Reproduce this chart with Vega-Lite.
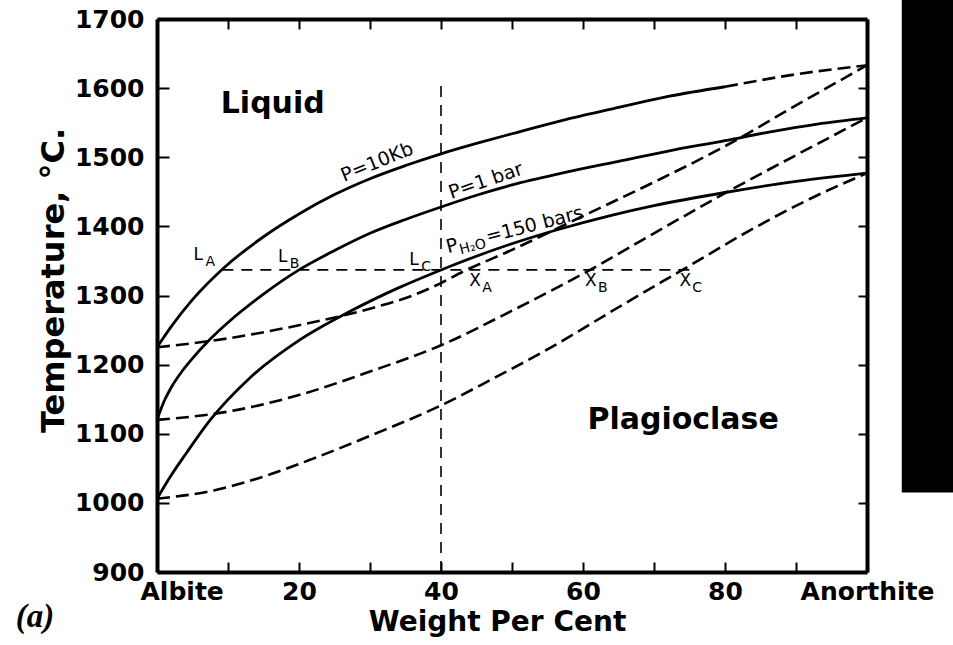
{
  "$schema": "https://vega.github.io/schema/vega-lite/v6.json",
  "width": 710,
  "height": 553,
  "autosize": {"type": "none"},
  "padding": {"left": 157, "top": 19, "right": 86, "bottom": 73},
  "background": "white",
  "config": {"view": {"stroke": null}, "font": "DejaVu Sans"},
  "datasets": {
    "solid": [
      {"series": "P=10Kb", "pct": 0, "temp": 1225}, {"series": "P=10Kb", "pct": 2, "temp": 1255}, {"series": "P=10Kb", "pct": 5, "temp": 1294}, {"series": "P=10Kb", "pct": 9.2, "temp": 1338}, {"series": "P=10Kb", "pct": 15, "temp": 1385}, {"series": "P=10Kb", "pct": 20, "temp": 1418}, {"series": "P=10Kb", "pct": 25, "temp": 1446}, {"series": "P=10Kb", "pct": 30, "temp": 1469}, {"series": "P=10Kb", "pct": 35, "temp": 1488}, {"series": "P=10Kb", "pct": 40, "temp": 1505}, {"series": "P=10Kb", "pct": 45, "temp": 1520}, {"series": "P=10Kb", "pct": 50, "temp": 1534}, {"series": "P=10Kb", "pct": 57, "temp": 1553}, {"series": "P=10Kb", "pct": 65, "temp": 1572}, {"series": "P=10Kb", "pct": 72, "temp": 1588}, {"series": "P=10Kb", "pct": 80, "temp": 1602},
      {"series": "P=1 bar", "pct": 0, "temp": 1120}, {"series": "P=1 bar", "pct": 1, "temp": 1147}, {"series": "P=1 bar", "pct": 2, "temp": 1167}, {"series": "P=1 bar", "pct": 3.5, "temp": 1190}, {"series": "P=1 bar", "pct": 5, "temp": 1209}, {"series": "P=1 bar", "pct": 7.5, "temp": 1237}, {"series": "P=1 bar", "pct": 10, "temp": 1261}, {"series": "P=1 bar", "pct": 15, "temp": 1302}, {"series": "P=1 bar", "pct": 20, "temp": 1337}, {"series": "P=1 bar", "pct": 25, "temp": 1365}, {"series": "P=1 bar", "pct": 30, "temp": 1390}, {"series": "P=1 bar", "pct": 35, "temp": 1410}, {"series": "P=1 bar", "pct": 40, "temp": 1428}, {"series": "P=1 bar", "pct": 45, "temp": 1445}, {"series": "P=1 bar", "pct": 50, "temp": 1460}, {"series": "P=1 bar", "pct": 57, "temp": 1477}, {"series": "P=1 bar", "pct": 65, "temp": 1494}, {"series": "P=1 bar", "pct": 72, "temp": 1509}, {"series": "P=1 bar", "pct": 80, "temp": 1524}, {"series": "P=1 bar", "pct": 86, "temp": 1536}, {"series": "P=1 bar", "pct": 93, "temp": 1548}, {"series": "P=1 bar", "pct": 100, "temp": 1557},
      {"series": "PH2O=150 bars", "pct": 0, "temp": 1006}, {"series": "PH2O=150 bars", "pct": 2, "temp": 1040}, {"series": "PH2O=150 bars", "pct": 4, "temp": 1070}, {"series": "PH2O=150 bars", "pct": 7.5, "temp": 1120}, {"series": "PH2O=150 bars", "pct": 13, "temp": 1180}, {"series": "PH2O=150 bars", "pct": 20, "temp": 1235}, {"series": "PH2O=150 bars", "pct": 27, "temp": 1276}, {"series": "PH2O=150 bars", "pct": 34, "temp": 1311}, {"series": "PH2O=150 bars", "pct": 40, "temp": 1337}, {"series": "PH2O=150 bars", "pct": 48, "temp": 1368}, {"series": "PH2O=150 bars", "pct": 56, "temp": 1394}, {"series": "PH2O=150 bars", "pct": 64, "temp": 1416}, {"series": "PH2O=150 bars", "pct": 70, "temp": 1430}, {"series": "PH2O=150 bars", "pct": 80, "temp": 1449}, {"series": "PH2O=150 bars", "pct": 90, "temp": 1465}, {"series": "PH2O=150 bars", "pct": 100, "temp": 1477}
    ],
    "dashed": [
      {"series": "P=10Kb liquidus ext", "pct": 80, "temp": 1602}, {"series": "P=10Kb liquidus ext", "pct": 90, "temp": 1620}, {"series": "P=10Kb liquidus ext", "pct": 100, "temp": 1633},
      {"series": "P=10Kb solidus", "pct": 0, "temp": 1225}, {"series": "P=10Kb solidus", "pct": 10, "temp": 1238}, {"series": "P=10Kb solidus", "pct": 20, "temp": 1257}, {"series": "P=10Kb solidus", "pct": 30, "temp": 1281}, {"series": "P=10Kb solidus", "pct": 36, "temp": 1300}, {"series": "P=10Kb solidus", "pct": 40, "temp": 1318}, {"series": "P=10Kb solidus", "pct": 43, "temp": 1334}, {"series": "P=10Kb solidus", "pct": 50, "temp": 1366}, {"series": "P=10Kb solidus", "pct": 60, "temp": 1415}, {"series": "P=10Kb solidus", "pct": 70, "temp": 1464}, {"series": "P=10Kb solidus", "pct": 80, "temp": 1516}, {"series": "P=10Kb solidus", "pct": 90, "temp": 1575}, {"series": "P=10Kb solidus", "pct": 100, "temp": 1633},
      {"series": "P=1 bar solidus", "pct": 0, "temp": 1120}, {"series": "P=1 bar solidus", "pct": 10, "temp": 1132}, {"series": "P=1 bar solidus", "pct": 20, "temp": 1156}, {"series": "P=1 bar solidus", "pct": 30, "temp": 1190}, {"series": "P=1 bar solidus", "pct": 40, "temp": 1228}, {"series": "P=1 bar solidus", "pct": 50, "temp": 1278}, {"series": "P=1 bar solidus", "pct": 61, "temp": 1337}, {"series": "P=1 bar solidus", "pct": 70, "temp": 1390}, {"series": "P=1 bar solidus", "pct": 80, "temp": 1448}, {"series": "P=1 bar solidus", "pct": 90, "temp": 1503}, {"series": "P=1 bar solidus", "pct": 100, "temp": 1557},
      {"series": "PH2O solidus", "pct": 0, "temp": 1006}, {"series": "PH2O solidus", "pct": 8, "temp": 1018}, {"series": "PH2O solidus", "pct": 15, "temp": 1038}, {"series": "PH2O solidus", "pct": 22, "temp": 1064}, {"series": "PH2O solidus", "pct": 30, "temp": 1097}, {"series": "PH2O solidus", "pct": 40, "temp": 1141}, {"series": "PH2O solidus", "pct": 47, "temp": 1178}, {"series": "PH2O solidus", "pct": 55, "temp": 1222}, {"series": "PH2O solidus", "pct": 65, "temp": 1283}, {"series": "PH2O solidus", "pct": 74, "temp": 1337}, {"series": "PH2O solidus", "pct": 84, "temp": 1397}, {"series": "PH2O solidus", "pct": 92, "temp": 1440}, {"series": "PH2O solidus", "pct": 100, "temp": 1477}
    ],
    "guides": [
      {"series": "isotherm", "pct": 9.2, "temp": 1337}, {"series": "isotherm", "pct": 75, "temp": 1337},
      {"series": "isopleth", "pct": 40, "temp": 900}, {"series": "isopleth", "pct": 40, "temp": 1610}
    ],
    "points": [
      {"main": "L", "sub": "A", "pct": 5.8, "temp": 1359},
      {"main": "L", "sub": "B", "pct": 17.7, "temp": 1356},
      {"main": "L", "sub": "C", "pct": 36.2, "temp": 1351},
      {"main": "X", "sub": "A", "pct": 44.8, "temp": 1321},
      {"main": "X", "sub": "B", "pct": 61.1, "temp": 1321},
      {"main": "X", "sub": "C", "pct": 74.4, "temp": 1321}
    ],
    "regions": [
      {"label": "Liquid", "pct": 16.3, "temp": 1564},
      {"label": "Plagioclase", "pct": 74.1, "temp": 1107}
    ],
    "panel": [{"label": "(a)", "pct": -17.2, "temp": 820}],
    "lab10": [{"label": "P=10Kb", "pct": 31.0, "temp": 1493}],
    "lab1": [{"label": "P=1 bar", "pct": 46.3, "temp": 1466}],
    "labh2o": [{"p": "P", "h": "H₂O", "rest": "=150 bars", "pct": 41.0, "temp": 1361}],
    "block": [{"x1": 104.9, "x2": 113.5, "y1": 1015, "y2": 1745}]
  },
  "layer": [
    {
      "data": {"name": "solid"},
      "mark": {"type": "line", "color": "black", "strokeWidth": 2.8, "interpolate": "monotone"},
      "encoding": {
        "x": {"field": "pct", "type": "quantitative", "scale": {"domain": [0, 100], "nice": false, "zero": false},
          "axis": {"orient": "bottom", "values": [0, 10, 20, 30, 40, 50, 60, 70, 80, 90, 100],
            "labelExpr": "datum.value == 0 ? 'Albite' : datum.value == 100 ? 'Anorthite' : (datum.value % 20 == 0 ? datum.label : '')",
            "labelAlign": {"condition": {"test": "datum.value == 0", "value": "left"}, "value": "center"},
            "labelOffset": {"condition": {"test": "datum.value == 0", "value": -17}, "value": 0},
            "labelFlush": false, "labelOverlap": false, "labelFont": "DejaVu Sans", "labelFontSize": 25, "labelFontWeight": "bold", "labelColor": "black", "labelPadding": 17,
            "tickSize": -10, "tickWidth": 2, "tickColor": "black", "domainWidth": 4, "domainColor": "black", "grid": false,
            "title": "Weight Per Cent", "titleFont": "DejaVu Sans", "titleFontSize": 28, "titleFontWeight": "bold", "titleColor": "black", "titlePadding": 4, "titleX": 340}},
        "y": {"field": "temp", "type": "quantitative", "scale": {"domain": [900, 1700], "nice": false, "zero": false},
          "axis": {"orient": "left", "values": [900, 1000, 1100, 1200, 1300, 1400, 1500, 1600, 1700], "format": "d",
            "labelFont": "DejaVu Sans", "labelFontSize": 25, "labelFontWeight": "bold", "labelColor": "black", "labelPadding": 25,
            "tickSize": -12, "tickWidth": 2, "tickColor": "black", "domainWidth": 4, "domainColor": "black", "grid": false,
            "title": "Temperature, °C.", "titleFont": "DejaVu Sans", "titleFontSize": 32, "titleFontWeight": "bold", "titleColor": "black", "titlePadding": 4, "titleY": 261}},
        "detail": {"field": "series"}
      }
    },
    {
      "data": {"name": "dashed"},
      "mark": {"type": "line", "color": "black", "strokeWidth": 2.6, "strokeDash": [13, 6], "interpolate": "monotone"},
      "encoding": {
        "x": {"field": "pct", "type": "quantitative", "scale": {"domain": [0, 100], "nice": false, "zero": false},
          "axis": {"orient": "top", "values": [0, 10, 20, 30, 40, 50, 60, 70, 80, 90, 100], "labels": false, "title": null,
            "tickSize": -10, "tickWidth": 2, "tickColor": "black", "domainWidth": 4, "domainColor": "black", "grid": false}},
        "y": {"field": "temp", "type": "quantitative", "scale": {"domain": [900, 1700], "nice": false, "zero": false},
          "axis": {"orient": "right", "values": [900, 1000, 1100, 1200, 1300, 1400, 1500, 1600, 1700], "labels": false, "title": null,
            "tickSize": -9, "tickWidth": 2, "tickColor": "black", "domainWidth": 4, "domainColor": "black", "grid": false}},
        "detail": {"field": "series"}
      }
    },
    {
      "data": {"name": "guides"},
      "mark": {"type": "line", "color": "black", "strokeWidth": 1.6, "strokeDash": [11, 8]},
      "encoding": {
        "x": {"field": "pct", "type": "quantitative", "scale": {"domain": [0, 100]}, "axis": null},
        "y": {"field": "temp", "type": "quantitative", "scale": {"domain": [900, 1700]}, "axis": null},
        "detail": {"field": "series"}
      }
    },
    {
      "data": {"name": "points"},
      "mark": {"type": "text", "color": "black", "font": "DejaVu Sans", "fontSize": 17, "align": "center", "baseline": "middle"},
      "encoding": {
        "x": {"field": "pct", "type": "quantitative", "scale": {"domain": [0, 100]}, "axis": null},
        "y": {"field": "temp", "type": "quantitative", "scale": {"domain": [900, 1700]}, "axis": null},
        "text": {"field": "main"}
      }
    },
    {
      "data": {"name": "points"},
      "mark": {"type": "text", "color": "black", "font": "DejaVu Sans", "fontSize": 14, "align": "center", "baseline": "middle", "dx": 12, "dy": 7},
      "encoding": {
        "x": {"field": "pct", "type": "quantitative", "scale": {"domain": [0, 100]}, "axis": null},
        "y": {"field": "temp", "type": "quantitative", "scale": {"domain": [900, 1700]}, "axis": null},
        "text": {"field": "sub"}
      }
    },
    {
      "data": {"name": "regions"},
      "mark": {"type": "text", "color": "black", "font": "DejaVu Sans", "fontSize": 30, "fontWeight": "bold", "align": "center", "baseline": "alphabetic"},
      "encoding": {
        "x": {"field": "pct", "type": "quantitative", "scale": {"domain": [0, 100]}, "axis": null},
        "y": {"field": "temp", "type": "quantitative", "scale": {"domain": [900, 1700]}, "axis": null},
        "text": {"field": "label"}
      }
    },
    {
      "data": {"name": "lab10"},
      "mark": {"type": "text", "color": "black", "font": "DejaVu Sans", "fontSize": 19, "align": "center", "baseline": "middle", "angle": 338},
      "encoding": {
        "x": {"field": "pct", "type": "quantitative", "scale": {"domain": [0, 100]}, "axis": null},
        "y": {"field": "temp", "type": "quantitative", "scale": {"domain": [900, 1700]}, "axis": null},
        "text": {"field": "label"}
      }
    },
    {
      "data": {"name": "lab1"},
      "mark": {"type": "text", "color": "black", "font": "DejaVu Sans", "fontSize": 19, "align": "center", "baseline": "middle", "angle": 341},
      "encoding": {
        "x": {"field": "pct", "type": "quantitative", "scale": {"domain": [0, 100]}, "axis": null},
        "y": {"field": "temp", "type": "quantitative", "scale": {"domain": [900, 1700]}, "axis": null},
        "text": {"field": "label"}
      }
    },
    {
      "data": {"name": "labh2o"},
      "mark": {"type": "text", "color": "black", "font": "DejaVu Sans", "fontSize": 19, "align": "left", "baseline": "alphabetic", "angle": 345.5},
      "encoding": {
        "x": {"field": "pct", "type": "quantitative", "scale": {"domain": [0, 100]}, "axis": null},
        "y": {"field": "temp", "type": "quantitative", "scale": {"domain": [900, 1700]}, "axis": null},
        "text": {"field": "p"}
      }
    },
    {
      "data": {"name": "labh2o"},
      "mark": {"type": "text", "color": "black", "font": "DejaVu Sans", "fontSize": 14, "align": "left", "baseline": "alphabetic", "angle": 345.5, "dx": 12, "dy": 4},
      "encoding": {
        "x": {"field": "pct", "type": "quantitative", "scale": {"domain": [0, 100]}, "axis": null},
        "y": {"field": "temp", "type": "quantitative", "scale": {"domain": [900, 1700]}, "axis": null},
        "text": {"field": "h"}
      }
    },
    {
      "data": {"name": "labh2o"},
      "mark": {"type": "text", "color": "black", "font": "DejaVu Sans", "fontSize": 19, "align": "left", "baseline": "alphabetic", "angle": 345.5, "dx": 41},
      "encoding": {
        "x": {"field": "pct", "type": "quantitative", "scale": {"domain": [0, 100]}, "axis": null},
        "y": {"field": "temp", "type": "quantitative", "scale": {"domain": [900, 1700]}, "axis": null},
        "text": {"field": "rest"}
      }
    },
    {
      "data": {"name": "panel"},
      "mark": {"type": "text", "color": "black", "font": "Liberation Serif", "fontSize": 33, "fontStyle": "italic", "fontWeight": "bold", "align": "center", "baseline": "alphabetic"},
      "encoding": {
        "x": {"field": "pct", "type": "quantitative", "scale": {"domain": [0, 100]}, "axis": null},
        "y": {"field": "temp", "type": "quantitative", "scale": {"domain": [900, 1700]}, "axis": null},
        "text": {"field": "label"}
      }
    },
    {
      "data": {"name": "block"},
      "mark": {"type": "rect", "color": "black"},
      "encoding": {
        "x": {"field": "x1", "type": "quantitative", "scale": {"domain": [0, 100]}, "axis": null},
        "x2": {"field": "x2"},
        "y": {"field": "y1", "type": "quantitative", "scale": {"domain": [900, 1700]}, "axis": null},
        "y2": {"field": "y2"}
      }
    }
  ],
  "resolve": {"axis": {"x": "independent", "y": "independent"}}
}
